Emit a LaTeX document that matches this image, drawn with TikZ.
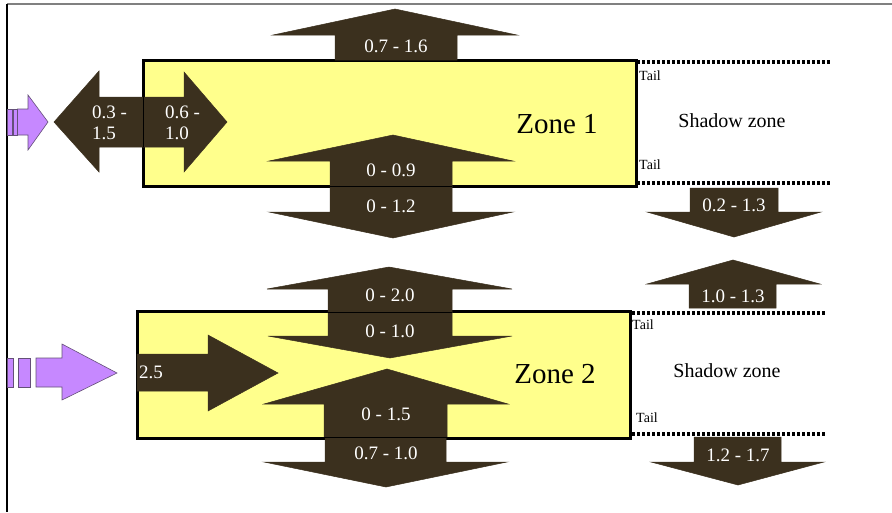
\documentclass[tikz,border=0pt]{standalone}
\usepackage{fontspec}
\setmainfont{Liberation Serif}
\definecolor{flowbrown}{RGB}{59,48,30}
\definecolor{zoneyellow}{RGB}{255,255,140}
\definecolor{inpurple}{RGB}{198,136,255}
\definecolor{inedge}{RGB}{100,80,120}
\begin{document}
\begin{tikzpicture}[x=1pt,y=-1pt,
    flow/.style={fill=flowbrown,draw=flowbrown,line width=0.5pt},
    lbl/.style={text=white,inner sep=0pt,font=\fontsize{19}{21}\selectfont},
    zonebox/.style={fill=zoneyellow,draw=black,line width=3pt},
    tailline/.style={line width=4pt,dash pattern=on 3pt off 2pt},
    taillbl/.style={anchor=west,inner sep=0pt,font=\fontsize{14}{15}\selectfont},
    inflow/.style={fill=inpurple,draw=inedge,line width=0.6pt}]

\useasboundingbox (0,0) rectangle (892,512);

% frame
\draw[gray,line width=1.5pt] (7,4) -- (892,4);
\draw[black,line width=1.2pt] (7,4) -- (7,512);

% ----------------------------------------------------------
% Zone 1
% ----------------------------------------------------------
\draw[zonebox] (143,60) rectangle (636,186);

% inflow (striped arrow)
\draw[inflow] (7,109) rectangle (12.3,135);
\draw[inflow] (13.3,109) rectangle (17.3,135);
\draw[inflow] (17.5,109) -- (28,109) -- (28,95) -- (48,122) -- (28,150) -- (28,135) -- (17.5,135) -- cycle;

% left / right exchange at the upstream edge
\draw[flow] (143,97) -- (99,97) -- (99,71) -- (54,122) -- (99,172) -- (99,147) -- (143,147) -- cycle;
\draw[flow] (143,97) -- (184,97) -- (184,72) -- (227,122) -- (184,172) -- (184,147) -- (143,147) -- cycle;
\draw[black,line width=0.6pt] (143,97) -- (143,147);
\node[lbl,anchor=west,align=left] (backA) at (92,123) {0.3 -\\1.5};
\node[lbl,anchor=west,align=left] (fwdA) at (165,123) {0.6 -\\1.0};

% upward loss through the top
\draw[flow] (335,60) -- (335,35) -- (273,35) -- (395,9) -- (517,35) -- (457,35) -- (457,60) -- cycle;
\node[lbl] (topA) at (396,46) {0.7 - 1.6};

% exchange through the bottom
\draw[flow] (330,186) -- (330,161) -- (269,161) -- (393,135) -- (513,161) -- (452,161) -- (452,186) -- cycle;
\draw[flow] (330,186) -- (330,212) -- (269,212) -- (393,238) -- (513,212) -- (452,212) -- (452,186) -- cycle;
\draw[black,line width=0.8pt] (330,186) -- (452,186);
\node[lbl] (upA) at (391,170) {0 - 0.9};
\node[lbl] (downA) at (391,206) {0 - 1.2};

\node[font=\fontsize{29}{32}\selectfont] (zoneA) at (557,124) {Zone 1};

% shadow zone
\node[font=\fontsize{20}{22}\selectfont] (shadowA) at (732,121) {Shadow zone};
\draw[flow] (690,188) -- (690,212) -- (647,212) -- (734,237) -- (821,212) -- (778,212) -- (778,188) -- cycle;
\node[lbl] (shadowdownA) at (734,205) {0.2 - 1.3};

% ----------------------------------------------------------
% Zone 2
% ----------------------------------------------------------
\draw[zonebox] (137,311) rectangle (630,438);

% inflow (striped arrow)
\draw[inflow] (7,358) rectangle (13.7,387);
\draw[inflow] (18.3,358) rectangle (30.7,387);
\draw[inflow] (36,358) -- (62,358) -- (62,344) -- (117,373) -- (62,400) -- (62,387) -- (36,387) -- cycle;

% forward flow at the upstream edge
\draw[flow] (137,354) -- (208,354) -- (208,335) -- (278,373) -- (208,411) -- (208,391) -- (137,391) -- cycle;
\node[lbl,anchor=west] (fwdB) at (139,372) {2.5};

% exchange through the top
\draw[flow] (328,312) -- (328,289) -- (267,289) -- (389,267) -- (512,289) -- (452,289) -- (452,312) -- cycle;
\draw[flow] (328,312) -- (328,336) -- (268,336) -- (390,358) -- (512,336) -- (452,336) -- (452,312) -- cycle;
\draw[black,line width=0.8pt] (328,312) -- (452,312);
\node[lbl] (topB) at (390,295) {0 - 2.0};
\node[lbl] (topdownB) at (390,331) {0 - 1.0};

% exchange through the bottom
\draw[flow] (324,437) -- (324,404) -- (264,404) -- (387,369) -- (508,404) -- (447,404) -- (447,437) -- cycle;
\draw[flow] (325,437) -- (325,462) -- (264,462) -- (386,487) -- (507,462) -- (446,462) -- (446,437) -- cycle;
\draw[black,line width=0.8pt] (324,437) -- (447,437);
\node[lbl] (upB) at (386,414) {0 - 1.5};
\node[lbl] (downB) at (386,453) {0.7 - 1.0};

\node[font=\fontsize{29}{32}\selectfont] (zoneB) at (555,374) {Zone 2};

% shadow zone
\node[font=\fontsize{20}{22}\selectfont] (shadowB) at (727,371) {Shadow zone};
\draw[flow] (689,308) -- (689,284) -- (647,284) -- (733,260) -- (820,284) -- (776,284) -- (776,308) -- cycle;
\node[lbl] (shadowupB) at (733,296) {1.0 - 1.3};
\draw[flow] (694,437) -- (694,462) -- (651,462) -- (738,485) -- (824,462) -- (781,462) -- (781,437) -- cycle;
\node[lbl] (shadowdownB) at (738,455) {1.2 - 1.7};

% ----------------------------------------------------------
% Tails
% ----------------------------------------------------------
\foreach \y/\xa/\xb in {62/637/831, 183/637/831, 313/632/826, 434/632/826} {
    \draw[tailline] (\xa,\y) -- (\xb,\y);
}
\foreach \x/\y [count=\i] in {639/76, 639/165, 632/325, 636/418} {
    \node[taillbl] (tail\i) at (\x,\y) {Tail};
}

\end{tikzpicture}
\end{document}
